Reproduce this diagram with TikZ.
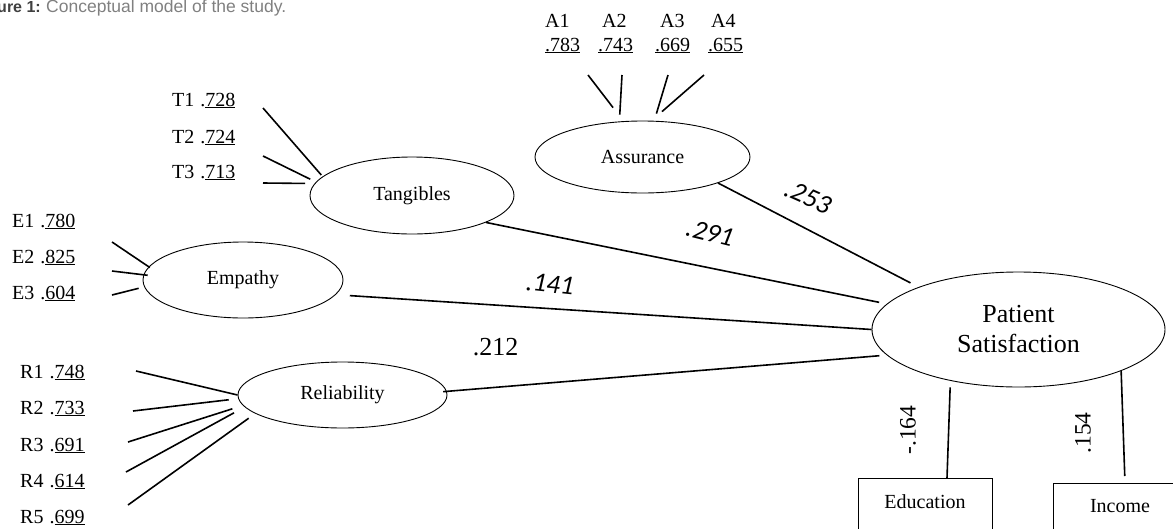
\documentclass[tikz,border=0pt]{standalone}
\usepackage{fontspec}
\setmainfont{Liberation Serif}
\newfontfamily\capfont{Liberation Sans}
\newfontfamily\coeffont{Carlito}
\usetikzlibrary{shapes.geometric}
\begin{document}
\begin{tikzpicture}[x=1pt,y=-1pt,
  lat/.style={ellipse,draw,line width=0.9pt,inner sep=0pt,font=\fontsize{20}{24}\selectfont},
  ind/.style={anchor=base west,inner sep=0pt,font=\fontsize{20}{24}\selectfont},
  reg/.style={line width=1.6pt},
  ldg/.style={line width=1.6pt},
  obs/.style={draw,line width=0.9pt,rectangle,inner sep=0pt,anchor=north,minimum width=134pt,font=\fontsize{20}{24}\selectfont},
  coefi/.style={inner sep=0pt,font=\coeffont\itshape\fontsize{27}{30}\selectfont},
  coefr/.style={inner sep=0pt,font=\fontsize{23.5}{28}\selectfont}
]
\useasboundingbox (0,0) rectangle (1173,528);
\clip (0,0) rectangle (1173,528);

% caption
\node[anchor=base east,inner sep=0pt,font=\capfont\bfseries\fontsize{16}{18}\selectfont,text=black!75] (figlab) at (41,12.5) {Figure 1:};
\node[anchor=base west,inner sep=0pt,font=\capfont\fontsize{17.5}{20}\selectfont,text=black!50] (caption) at (46,12.5) {Conceptual model of the study.};

% latent variables
\node[lat,minimum width=215pt,minimum height=72pt] (ass) at (642.5,157) {Assurance};
\node[lat,minimum width=204pt,minimum height=77pt] (tan) at (412,195.5) {Tangibles};
\node[lat,minimum width=200pt,minimum height=76pt] (emp) at (243,280) {Empathy};
\node[lat,minimum width=209pt,minimum height=66pt] (rel) at (342.5,395) {Reliability};
\node[lat,minimum width=293pt,minimum height=115pt,align=center,font=\fontsize{26}{30}\selectfont] (ps) at (1018.5,329.5) {Patient\\Satisfaction};

% observed variables
\node[obs,text height=30pt,text depth=40pt] (edu) at (925,478) {Education};
\node[obs,text height=29pt,text depth=40pt] (inc) at (1120,483) {Income};

% indicator labels
\node[ind] (t1) at (172,106) {T1\hspace{6pt}.\underline{728}};
\node[ind] (t2) at (172,143) {T2\hspace{6pt}.\underline{724}};
\node[ind] (t3) at (172,178) {T3\hspace{6pt}.\underline{713}};
\node[ind] (e1) at (12,227) {E1\hspace{6pt}.\underline{780}};
\node[ind] (e2) at (12,263) {E2\hspace{6pt}.\underline{825}};
\node[ind] (e3) at (12,299) {E3\hspace{6pt}.\underline{604}};
\node[ind] (r1) at (20,378) {R1\hspace{6pt}.\underline{748}};
\node[ind] (r2) at (20,414) {R2\hspace{6pt}.\underline{733}};
\node[ind] (r3) at (20,451) {R3\hspace{6pt}.\underline{691}};
\node[ind] (r4) at (20,487) {R4\hspace{6pt}.\underline{614}};
\node[ind] (r5) at (20,523) {R5\hspace{6pt}.\underline{699}};
\node[ind] (a1n) at (545,27) {A1};
\node[ind] (a2n) at (602,27) {A2};
\node[ind] (a3n) at (660,27) {A3};
\node[ind] (a4n) at (711,27) {A4};
\node[ind] (a1v) at (545,51) {\underline{.783}};
\node[ind] (a2v) at (598,51) {\underline{.743}};
\node[ind] (a3v) at (655,51) {\underline{.669}};
\node[ind] (a4v) at (708,51) {\underline{.655}};

% free ends of indicator lines
\coordinate (t1o) at (263,108);
\coordinate (t2o) at (263,156);
\coordinate (t3o) at (263,183);
\coordinate (a1o) at (588,75);
\coordinate (a2o) at (622,75);
\coordinate (a3o) at (668,75);
\coordinate (a4o) at (704,75);
\coordinate (e1o) at (112,242);
\coordinate (e2o) at (112,271);
\coordinate (e3o) at (112,295);
\coordinate (r1o) at (136,371);
\coordinate (r2o) at (133,411);
\coordinate (r3o) at (128,442);
\coordinate (r4o) at (126,472);
\coordinate (r5o) at (128,505);

% indicator lines
\draw[ldg,shorten >=2pt] (t1o) -- (tan.168);
\draw[ldg,shorten >=6.3pt] (t2o) -- (tan.172);
\draw[ldg,shorten >=9.5pt] (t3o) -- (tan.173);
\draw[ldg,shorten >=17pt] (a1o) -- (ass.118);
\draw[ldg,shorten >=6.8pt] (a2o) -- (ass.123);
\draw[ldg,shorten >=7.5pt] (a3o) -- (ass.72);
\draw[ldg,shorten >=13.8pt] (a4o) -- (ass.76);
\draw[ldg,shorten >=-1.4pt] (e1o) -- (emp.172);
\draw[ldg,shorten >=-4.2pt] (e2o) -- (emp.177);
\draw[ldg,shorten >=5.7pt] (e3o) -- (emp.184);
\draw[ldg] (r1o) -- (rel.180);
\draw[ldg,shorten >=9.5pt] (r2o) -- (rel.182);
\draw[ldg,shorten >=11pt] (r3o) -- (rel.186);
\draw[ldg,shorten >=12pt] (r4o) -- (rel.187);
\draw[ldg,shorten >=8pt] (r5o) -- (rel.192);

% structural paths
\draw[reg,shorten >=9pt] (ass.-19) -- (ps.157);
\draw[reg,shorten >=7.7pt] (tan.-20) -- (ps.169);
\draw[reg,shorten <=14pt] (emp.-9) -- (ps.180);
\draw[reg,shorten <=-3.7pt,shorten >=7.4pt] (rel.2) -- (ps.191);
\draw[reg,shorten <=6.5pt] (ps.-143) -- ([xshift=22pt]edu.north);
\draw[reg,shorten >=7pt] (ps.-22) -- ([xshift=5pt]inc.north);

% coefficients
\node[coefi,rotate=-24] (c253) at (808,197) {.253};
\node[coefi,rotate=-14] (c291) at (710,233) {.291};
\node[coefi,rotate=-6] (c141) at (550,284) {.141};
\node[inner sep=0pt,anchor=base,font=\fontsize{26}{30}\selectfont] (c212) at (495.5,355) {.212};
\node[coefr,rotate=90] (c164) at (908,430) {-.164};
\node[coefr,rotate=90] (c154) at (1083,433) {.154};
\end{tikzpicture}
\end{document}
